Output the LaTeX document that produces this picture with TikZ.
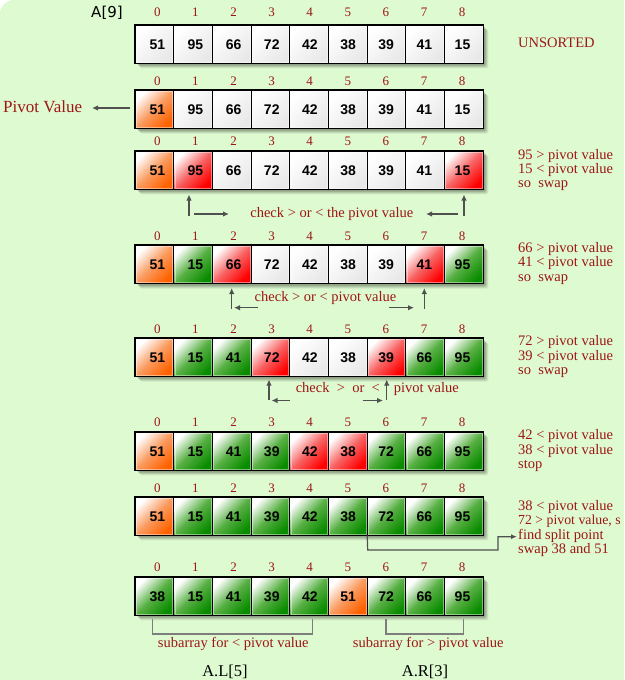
\documentclass[tikz,border=0pt]{standalone}
\usepackage{fontspec}
\setmainfont{Liberation Serif}
\newfontfamily\numfont{Liberation Sans}
\newfontfamily\dvsfont{DejaVu Sans}
\usetikzlibrary{arrows.meta,calc}
\definecolor{bg}{RGB}{222,250,208}
\definecolor{txtred}{RGB}{158,22,22}
\definecolor{arrgray}{RGB}{80,80,80}
\definecolor{brkgray}{RGB}{125,125,125}
\definecolor{gbot}{RGB}{10,140,0}
\definecolor{gmid}{RGB}{88,176,68}
\definecolor{rbot}{RGB}{255,0,0}
\definecolor{rmid}{RGB}{248,100,100}
\definecolor{obot}{RGB}{255,98,0}
\definecolor{omid}{RGB}{250,155,95}
\tikzset{
  cellbox/.style={draw=black, line width=0.9pt, minimum width=38.7pt, minimum height=38.6pt, inner sep=0pt, outer sep=0pt, anchor=north west},
  w/.style={cellbox, top color=white, bottom color=black!9, shading angle=45},
  o/.style={cellbox, top color=white, bottom color=obot, middle color=omid, shading angle=45},
  r/.style={cellbox, top color=white, bottom color=rbot, middle color=rmid, shading angle=45},
  g/.style={cellbox, top color=white, bottom color=gbot, middle color=gmid, shading angle=45},
  numtxt/.style={font=\numfont\bfseries\fontsize{14}{14}\selectfont, inner sep=0pt, anchor=center},
  idx/.style={font=\fontsize{13}{13}\selectfont, text=txtred, inner sep=0pt, anchor=base},
  note/.style={font=\fontsize{14.5}{14.5}\selectfont, text=txtred, inner sep=0pt, anchor=base west},
  ctext/.style={font=\fontsize{14.5}{14.5}\selectfont, text=txtred, inner sep=0pt, anchor=base},
  arr/.style={draw=arrgray, line width=1.5pt, -{Latex[length=6pt,width=5.5pt]}},
  thinarr/.style={draw=arrgray, line width=1.2pt, -{Latex[length=6pt,width=5pt]}},
  brk/.style={draw=brkgray, line width=1.4pt},
}
\begin{document}
\begin{tikzpicture}[x=1pt,y=-1pt]
\useasboundingbox (0,0) rectangle (624,680);
\fill[white] (0,0) rectangle (624,680);
\begin{scope}
  \clip (0,0) rectangle (624,680);
  \fill[bg, rounded corners=14pt] (0,0) rectangle (660,720);
\end{scope}

% rows
\foreach \rw/\tp/\lb/\dat in {
  1/24.7/12.5/{51/w,95/w,66/w,72/w,42/w,38/w,39/w,41/w,15/w},
  2/90/81.5/{51/o,95/w,66/w,72/w,42/w,38/w,39/w,41/w,15/w},
  3/150.7/141.7/{51/o,95/r,66/w,72/w,42/w,38/w,39/w,41/w,15/r},
  4/245/236/{51/o,15/g,66/r,72/w,42/w,38/w,39/w,41/r,95/g},
  5/338/329/{51/o,15/g,41/g,72/r,42/w,38/w,39/r,66/g,95/g},
  6/431.7/422.7/{51/o,15/g,41/g,39/g,42/r,38/r,72/g,66/g,95/g},
  7/496.7/488/{51/o,15/g,41/g,39/g,42/g,38/g,72/g,66/g,95/g},
  8/576.7/567.3/{38/g,15/g,41/g,39/g,42/g,51/o,72/g,66/g,95/g}}
{
  \foreach \s/\op in {5/0.07,4/0.09,3/0.11,2/0.13}
    \fill[black, opacity=\op, rounded corners=2pt] (135+\s,\tp+\s) rectangle ++(348.3,38.6);
  \foreach \v/\c [count=\i from 0] in \dat {
    \node[\c] (r\rw c\i) at ({135+38.7*\i},\tp) {};
    \draw[white, opacity=0.45, line width=0.7pt] ($(r\rw c\i.north west)+(1.2,1.2)$) rectangle ($(r\rw c\i.south east)+(-1.2,-1.2)$);
    \node[numtxt] (n\rw c\i) at ({157.3+38.15*\i},{\tp+19.7}) {\v};
    \node[idx] (x\rw c\i) at ({157.3+38.1*\i},{\lb+4.2}) {\i};
  }
  \draw[line width=1.6pt] (r\rw c0.north west) rectangle (r\rw c8.south east);
}

% top labels
\node[font=\dvsfont\fontsize{15}{15}\selectfont, inner sep=0pt, anchor=base] (arrname) at (107,17) {A[9]};
\node[note] (unsorted) at (518,47.7) {UNSORTED};

% pivot value
\node[font=\fontsize{17}{17}\selectfont, text=txtred, inner sep=0pt, anchor=base west] (pv) at (3,112.5) {Pivot Value};
\coordinate (pvs) at (130,108);
\coordinate (pve) at (92,108);
\draw[arr] (pvs) -- (pve);

% row 3 notes and arrows
\node[note] (n3a) at (518,159) {95 > pivot value};
\node[note] (n3b) at (518,173.4) {15 < pivot value};
\node[note] (n3c) at (518,187.8) {so\ \ swap};
\node[ctext] (c3) at (331.8,217.3) {check > or < the pivot value};
\coordinate (a3l) at (189,216); \coordinate (a3lt) at (189,194.5);
\coordinate (a3r) at (464,216); \coordinate (a3rt) at (464,194.5);
\draw[arr] (a3l) -- (a3lt);
\draw[arr] (a3r) -- (a3rt);
\coordinate (h3a) at (194,214); \coordinate (h3b) at (229,214);
\coordinate (h3c) at (458,214); \coordinate (h3d) at (426,214);
\draw[arr] (h3a) -- (h3b);
\draw[arr] (h3c) -- (h3d);

% row 4
\node[note] (n4a) at (518,252.2) {66 > pivot value};
\node[note] (n4b) at (518,266.6) {41 < pivot value};
\node[note] (n4c) at (518,281) {so\ \ swap};
\node[ctext] (c4) at (325.5,301) {check > or < pivot value};
\coordinate (a4l) at (231.7,308.5); \coordinate (a4lt) at (231.7,288);
\coordinate (a4r) at (424.3,308.5); \coordinate (a4rt) at (424.3,288);
\draw[arr] (a4l) -- (a4lt);
\draw[arr] (a4r) -- (a4rt);
\coordinate (h4a) at (258,307.7); \coordinate (h4b) at (234,307.7);
\coordinate (h4c) at (389,307.7); \coordinate (h4d) at (414,307.7);
\draw[arr] (h4a) -- (h4b);
\draw[arr] (h4c) -- (h4d);

% row 5
\node[note] (n5a) at (518,345.7) {72 > pivot value};
\node[note] (n5b) at (518,360.1) {39 < pivot value};
\node[note] (n5c) at (518,374.5) {so\ \ swap};
\node[ctext] (c5a) at (337.8,392.7) {check\ \ >\ \ or\ \ <};
\node[ctext] (c5b) at (426.3,392.7) {pivot value};
\coordinate (a5l) at (269,400); \coordinate (a5lt) at (269,379.5);
\coordinate (a5r) at (386.7,400); \coordinate (a5rt) at (386.7,379.5);
\draw[arr] (a5l) -- (a5lt);
\draw[arr] (a5r) -- (a5rt);
\coordinate (h5a) at (289.5,400.5); \coordinate (h5b) at (271.5,400.5);
\coordinate (h5c) at (362.5,400.5); \coordinate (h5d) at (383,400.5);
\draw[arr] (h5a) -- (h5b);
\draw[arr] (h5c) -- (h5d);

% row 6
\node[note] (n6a) at (518,439.7) {42 < pivot value};
\node[note] (n6b) at (518,454.1) {38 < pivot value};
\node[note] (n6c) at (518,468.5) {stop};

% row 7
\node[note] (n7a) at (518,510) {38 < pivot value};
\node[note, font=\fontsize{13.8}{14}\selectfont] (n7b) at (518,524.5) {72 > pivot value, s};
\node[note] (n7c) at (518,539) {find split point};
\node[note] (n7d) at (518,553.5) {swap 38 and 51};
\coordinate (sp1) at (367.7,550);
\coordinate (sp2) at (498,550);
\coordinate (sp3) at (498,536.7);
\coordinate (sp4) at (517,536.7);
\draw[thinarr] (r7c6.south west) -- (sp1) -- (sp2) -- (sp3) -- (sp4);

% row 8 brackets
\coordinate (bl1) at (152.3,619); \coordinate (bl2) at (152.3,634);
\coordinate (bl3) at (312.3,634); \coordinate (bl4) at (312.3,619);
\draw[brk] (bl1) -- (bl2) -- (bl3) -- (bl4);
\coordinate (br1) at (386,619); \coordinate (br2) at (386,634);
\coordinate (br3) at (463.3,634); \coordinate (br4) at (463.3,619);
\draw[brk] (br1) -- (br2) -- (br3) -- (br4);
\node[ctext] (sl) at (233.3,647.3) {subarray for < pivot value};
\node[ctext] (sr) at (428.3,647.3) {subarray for > pivot value};
\node[font=\fontsize{16.5}{16.5}\selectfont, inner sep=0pt, anchor=base] (al) at (225,676.5) {A.L[5]};
\node[font=\fontsize{16.5}{16.5}\selectfont, inner sep=0pt, anchor=base] (ar) at (425,676.5) {A.R[3]};
\end{tikzpicture}
\end{document}
